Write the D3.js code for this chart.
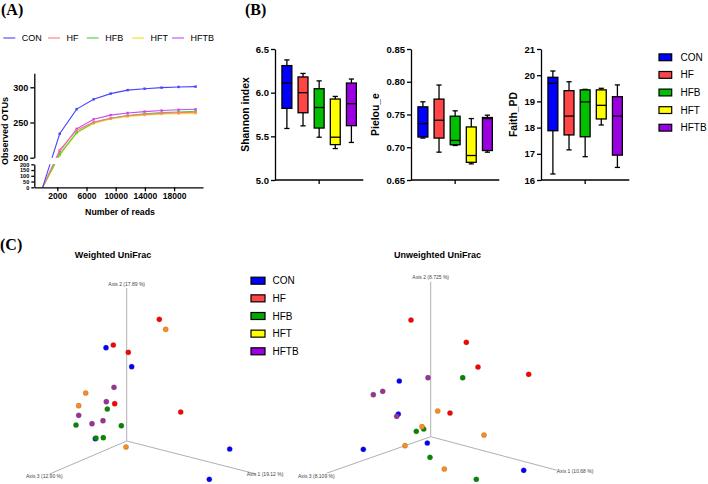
<!DOCTYPE html>
<html><head><meta charset="utf-8">
<script src="https://cdn.jsdelivr.net/npm/d3@7"></script>
<style>
body{margin:0;background:#fff}
svg{display:block;font-family:"Liberation Sans",Arial,sans-serif}
</style>
</head><body>
<svg id="c" width="708" height="484"></svg>
<script>
// ---------------- DATA ----------------
const groups = ["CON", "HF", "HFB", "HFT", "HFTB"];
const lineColors = ["#4545ff", "#ff7a7a", "#45d045", "#ece020", "#c84af0"];
const boxColors = ["#0000ff", "#ff4545", "#00c000", "#ffff00", "#9a00e0"];
const pcoaColors = ["#0000ff", "#ff0000", "#008a00", "#ff8c1a", "#993399"];

// rarefaction (panel A)
const depths = [1, 2328, 4655, 6982, 9309, 11636, 13963, 16290, 18617, 20944];
const otuCON  = [1, 234, 269, 283, 291, 296, 298, 299.5, 300.5, 301];
const otuHF   = [1, 211, 239, 250.5, 256, 259.5, 261.5, 263, 264, 264.5];
const otuHFB  = [1, 205, 236, 250, 256, 260, 262.5, 264, 265, 266];
const otuHFT  = [1, 203, 235, 248.5, 255, 258.5, 260.5, 262, 262.5, 263];
const otuHFTB = [1, 209, 241, 254.5, 260.5, 263.5, 265.5, 267, 268, 268.8];
const xTicksA = [2000, 6000, 10000, 14000, 18000];
const yTicksUpper = [200, 250, 300];
const yTicksLower = [0, 50, 100, 150, 200];

// box plots (panel B): [min, q1, median, q3, max]
const shannon = [
  [5.59, 5.82, 6.11, 6.31, 6.375],
  [5.62, 5.77, 6.00, 6.18, 6.22],
  [5.49, 5.595, 5.83, 6.045, 6.135],
  [5.36, 5.405, 5.49, 5.927, 5.957],
  [5.43, 5.622, 5.874, 6.11, 6.156]
];
const pielou = [
  [0.714, 0.7156, 0.736, 0.7617, 0.7694],
  [0.6925, 0.714, 0.7412, 0.7735, 0.795],
  [0.7027, 0.7038, 0.7104, 0.7474, 0.7556],
  [0.6746, 0.677, 0.6874, 0.731, 0.7438],
  [0.6925, 0.695, 0.7438, 0.7454, 0.749]
];
const faith = [
  [16.23, 17.88, 19.69, 19.92, 20.16],
  [17.15, 17.72, 18.44, 19.41, 19.75],
  [16.89, 17.65, 18.98, 19.44, 19.46],
  [18.10, 18.33, 18.85, 19.44, 19.50],
  [16.48, 16.95, 18.44, 19.18, 19.63]
];
const shannonTicks = [5.0, 5.5, 6.0, 6.5];
const pielouTicks = [0.65, 0.70, 0.75, 0.80, 0.85];
const faithTicks = [16, 17, 18, 19, 20, 21];

// PCoA projected coordinates (panel C), group index per point
const wGroup = [1,1,1,1,1, 3,3,3,3, 0,0,0,0,0, 4,4,4,4,4, 2,2,2,2,2];
const wX = [32.6,-13.4,1.6,-12,54, 39,-41,-48,-0.7, -20.7,5,-31.4,103,82.6, -12.7,-20.4,-48,-34.7,-23.7, -19.4,-5.4,-50.7,-30.7,-23.4];
const wY = [121.7,96,88.7,37.3,29, 111.7,48,35.3,-6, 93.3,74.3,2.3,-8,-38.3, 53.7,39.3,25.7,17.3,20.3, 32,15.3,16,3,3.3];
const uGroup = [1,1,1,1,1, 0,0,0,0,0, 4,4,4,4, 2,2,2,2,2, 3,3,3,3,3];
const uX = [-19.7,35.6,47.3,98,19.3, -31.4,-32.4,-67.4,-3.4,93, -2.7,-48,-57.4,-34, 32,-14.4,-7,-0.7,45.6, 7,-8.7,-25.7,53.3,13.6];
const uY = [116.7,94.4,69.7,62.4,23.7, 55.7,22.7,-12.6,-6.3,-33.6, 59,45.4,42,20.4, 59,5.4,7.7,-20.6,-42.6, 25.7,10,-9,1.7,-32.3];

// ---------------- DRAW ----------------
const svg = d3.select("#c");
const bold = "bold";

function panelLabel(t, x, y) {
  svg.append("text").attr("x", x).attr("y", y).text(t)
    .attr("font-family", "'Liberation Serif','Times New Roman',serif")
    .attr("font-weight", "bold").attr("font-size", 16);
}
panelLabel("(A)", 1, 15);
panelLabel("(B)", 245, 15);
panelLabel("(C)", 0, 250);

// ---- Panel A ----
const xA = d3.scaleLinear().domain([-1150, 21960]).range([34.3, 203]);
const yUp = d3.scaleLinear().domain([200, 320]).range([157.7, 73.2]);
const yLo = d3.scaleLinear().domain([0, 200]).range([187.3, 164.3]);
const yA = v => v >= 200 ? yUp(v) : yLo(v);

const defs = svg.append("defs");
const cp = defs.append("clipPath").attr("id", "clipA");
cp.append("rect").attr("x", 34).attr("y", 60).attr("width", 180).attr("height", 157.7 - 60);
cp.append("rect").attr("x", 34).attr("y", 164.3).attr("width", 180).attr("height", 24);

const seriesA = [otuCON, otuHF, otuHFB, otuHFT, otuHFTB];
const gA = svg.append("g").attr("clip-path", "url(#clipA)");
const lineA = d3.line().x((d, i) => xA(depths[i])).y(d => yA(d));
[4, 3, 2, 1, 0].forEach(k => {
  gA.append("path").datum(seriesA[k]).attr("d", lineA)
    .attr("fill", "none").attr("stroke", lineColors[k]).attr("stroke-width", 1.1);
  gA.selectAll(null).data(seriesA[k].slice(1)).enter().append("rect")
    .attr("x", (d, i) => xA(depths[i + 1]) - 1.2).attr("y", d => yA(d) - 1.2)
    .attr("width", 2.4).attr("height", 2.4).attr("fill", lineColors[k]);
});

function styleAxis(g, fs) {
  g.selectAll("path.domain").attr("stroke", "#000").attr("stroke-width", 1.3);
  g.selectAll(".tick line").attr("stroke", "#000").attr("stroke-width", 1.3);
  g.selectAll("text").attr("font-family", "'Liberation Sans',Arial,sans-serif")
    .attr("font-weight", "bold").attr("font-size", fs).attr("fill", "#000");
}
const axU = svg.append("g").attr("transform", "translate(34.3,0)")
  .call(d3.axisLeft(yUp).tickValues(yTicksUpper).tickSize(4).tickSizeOuter(0).tickPadding(2));
styleAxis(axU, 9);
const axL = svg.append("g").attr("transform", "translate(34.3,0)")
  .call(d3.axisLeft(yLo).tickValues(yTicksLower).tickSize(3).tickSizeOuter(0).tickPadding(2));
styleAxis(axL, 5.6);
const axX = svg.append("g").attr("transform", "translate(0,187.3)")
  .call(d3.axisBottom(xA).tickValues(xTicksA).tickFormat(d3.format("d")).tickSize(4).tickSizeOuter(0).tickPadding(2));
styleAxis(axX, 8.5);

svg.append("text").attr("x", 120).attr("y", 215).attr("text-anchor", "middle")
  .attr("font-weight", bold).attr("font-size", 8.8).text("Number of reads");
svg.append("text").attr("transform", "translate(8,131) rotate(-90)").attr("text-anchor", "middle")
  .attr("font-weight", bold).attr("font-size", 9).text("Observed OTUs");

// legend A
const legAx = [3.3, 48, 86.7, 132, 172];
groups.forEach((g, i) => {
  svg.append("line").attr("x1", legAx[i]).attr("x2", legAx[i] + 12).attr("y1", 38).attr("y2", 38)
    .attr("stroke", lineColors[i]).attr("stroke-width", 1.1);
  svg.append("text").attr("x", legAx[i] + 18.5).attr("y", 38).attr("dy", "0.35em")
    .attr("font-size", 9).text(g);
});

// ---- Panel B ----
function boxPanel(x0, stats, domain, ticks, fmt, label, labelX) {
  const y = d3.scaleLinear().domain(domain).range([180, 49]);
  const x = d3.scaleBand().domain(groups).range([x0, x0 + 88.3]).paddingInner(0.385).paddingOuter(0.43);
  const g = svg.append("g");
  const bw = x.bandwidth();
  groups.forEach((grp, i) => {
    const s = stats[i];
    const cx = x(grp) + bw / 2;
    g.append("line").attr("x1", cx).attr("x2", cx).attr("y1", y(s[0])).attr("y2", y(s[4]))
      .attr("stroke", "#000").attr("stroke-width", 1.3);
    [s[0], s[4]].forEach(v => g.append("line").attr("x1", cx - 2.6).attr("x2", cx + 2.6)
      .attr("y1", y(v)).attr("y2", y(v)).attr("stroke", "#000").attr("stroke-width", 1.3));
    g.append("rect").attr("x", x(grp)).attr("y", y(s[3])).attr("width", bw)
      .attr("height", y(s[1]) - y(s[3])).attr("fill", boxColors[i])
      .attr("stroke", "#000").attr("stroke-width", 1.3);
    g.append("line").attr("x1", x(grp)).attr("x2", x(grp) + bw).attr("y1", y(s[2])).attr("y2", y(s[2]))
      .attr("stroke", "#000").attr("stroke-width", 1.3);
  });
  const ay = svg.append("g").attr("transform", `translate(${x0},0)`)
    .call(d3.axisLeft(y).tickValues(ticks).tickFormat(d3.format(fmt)).tickSize(4).tickSizeOuter(0).tickPadding(2));
  styleAxis(ay, 9.5);
  const ax = svg.append("g").attr("transform", "translate(0,180)");
  ax.append("line").attr("x1", x0).attr("x2", x0 + 88.3).attr("y1", 0).attr("y2", 0)
    .attr("stroke", "#000").attr("stroke-width", 1.3);
  ax.append("line").attr("x1", x0 + 44.15).attr("x2", x0 + 44.15).attr("y1", 0).attr("y2", 4)
    .attr("stroke", "#000").attr("stroke-width", 1.3);
  svg.append("text").attr("transform", `translate(${labelX},114.5) rotate(-90)`).attr("text-anchor", "middle")
    .attr("dy", "0.35em").attr("font-weight", bold).attr("font-size", 10.4).text(label);
}
boxPanel(275, shannon, [5.0, 6.5], shannonTicks, ".1f", "Shannon index", 245);
boxPanel(411, pielou, [0.65, 0.85], pielouTicks, ".2f", "Pielou_e", 375);
boxPanel(541, faith, [16, 21], faithTicks, "d", "Faith_PD", 513);

// legend B
groups.forEach((g, i) => {
  const cy = 57.3 + i * 17.6;
  svg.append("rect").attr("x", 659).attr("y", cy - 3.4).attr("width", 12.7).attr("height", 6.8)
    .attr("fill", boxColors[i]).attr("stroke", "#000").attr("stroke-width", 1.2);
  svg.append("text").attr("x", 680.5).attr("y", cy).attr("dy", "0.35em").attr("font-size", 10).text(g);
});

// ---- Panel C ----
function pcoa(ox, oy, px, py, grp, title, titleX, ax2, ax1, ax3, ends) {
  const sx = d3.scaleLinear().domain([0, 100]).range([ox, ox + 100]);
  const sy = d3.scaleLinear().domain([0, 100]).range([oy, oy - 100]);
  svg.append("text").attr("x", titleX).attr("y", 255).attr("dy", "0.35em").attr("text-anchor", "middle")
    .attr("font-weight", bold).attr("font-size", 9).text(title);
  const axisG = svg.append("g").attr("stroke", "#b0b0b0").attr("stroke-width", 1);
  ends.forEach(e => axisG.append("line").attr("x1", sx(0)).attr("y1", sy(0))
    .attr("x2", sx(e[0])).attr("y2", sy(e[1])));
  const lab = (t, x, y, anchor) => svg.append("text").attr("x", x).attr("y", y).attr("dy", "0.35em")
    .attr("text-anchor", anchor).attr("font-size", 5).attr("fill", "#444").text(t);
  lab(ax2[0], sx(ax2[1]), sy(ax2[2]), "middle");
  lab(ax1[0], sx(ax1[1]), sy(ax1[2]), "start");
  lab(ax3[0], sx(ax3[1]), sy(ax3[2]), "start");
  svg.append("g").selectAll("circle").data(px).enter().append("circle")
    .attr("cx", d => sx(d)).attr("cy", (d, i) => sy(py[i])).attr("r", 2.6)
    .attr("fill", (d, i) => pcoaColors[grp[i]])
    .attr("stroke", "#555").attr("stroke-opacity", 0.5).attr("stroke-width", 0.5);
}
pcoa(126.7, 441, wX, wY, wGroup, "Weighted UniFrac", 113,
  ["Axis 2 (17.89 %)", 0, 157], ["Axis 1 (19.12 %)", 120, -33.5], ["Axis 3 (12.90 %)", -100.7, -35.5],
  [[0, 153], [129.5, -33], [-77, -33]]);
pcoa(430.7, 436.7, uX, uY, uGroup, "Unweighted UniFrac", 437.5,
  ["Axis 2 (8.725 %)", 0, 159], ["Axis 1 (10.68 %)", 126, -35], ["Axis 3 (8.109 %)", -132.7, -39.3],
  [[0, 155], [126, -33.5], [-104, -36.5]]);

// legend C
groups.forEach((g, i) => {
  const cy = 280.7 + i * 17.65;
  svg.append("rect").attr("x", 251).attr("y", cy - 3.5).attr("width", 14).attr("height", 7)
    .attr("fill", boxColors[i] === "#00c000" ? "#00a800" : boxColors[i]).attr("stroke", "#000").attr("stroke-width", 1.2);
  svg.append("text").attr("x", 272.5).attr("y", cy).attr("dy", "0.35em").attr("font-size", 10).text(g);
});
</script>
</body></html>
